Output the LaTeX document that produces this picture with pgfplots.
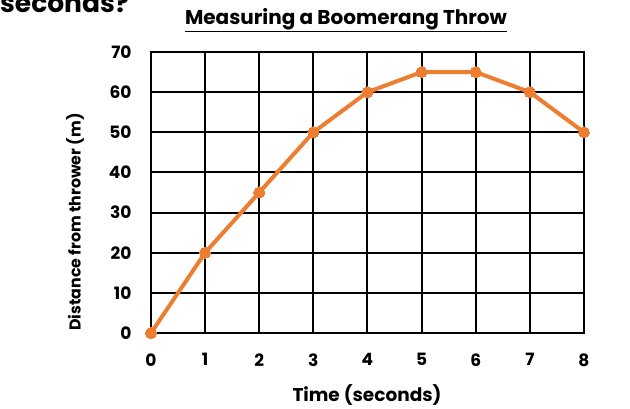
\documentclass[border=0pt]{standalone}
\usepackage{fontspec}
\setmainfont{Poppins}
\usepackage{pgfplots}
\pgfplotsset{compat=1.18}
\definecolor{boomorange}{HTML}{ED7D31}

\begin{document}
\begin{tikzpicture}[x=1pt,y=1pt]
\useasboundingbox (0,0) rectangle (630,409);
\begin{axis}[
    at={(151pt,76pt)}, anchor=south west,
    scale only axis,
    width=433pt, height=281pt,
    xmin=0, xmax=8, ymin=0, ymax=70,
    xtick={0,...,8}, ytick={0,10,...,70},
    grid=major,
    grid style={black, line width=2pt},
    axis line style={black, line width=2pt},
    major tick length=0pt,
    /pgf/number format/assume math mode=true,
    tick label style={font=\fontsize{17}{20}\selectfont\bfseries},
    xticklabel style={yshift=-17pt},
    yticklabel style={xshift=-16pt},
    clip=false,
]
\addplot[color=boomorange, line width=4pt, mark=*, mark size=5.5pt,
         mark options={fill=boomorange, draw=boomorange, line width=0pt}]
coordinates {
    (0,0)(1,20)(2,35)(3,50)(4,60)(5,65)(6,65)(7,60)(8,50)
};
\end{axis}
\node[anchor=center, font=\fontsize{18.5}{22}\selectfont\bfseries] at (367,14)
    {Time (seconds)};
\node[anchor=center, rotate=90, font=\fontsize{15.8}{18}\selectfont\bfseries] at (75,187)
    {Distance from thrower (m)};
\node[anchor=center, font=\fontsize{20}{24}\selectfont\bfseries] at (346,389)
    {\underline{Measuring a Boomerang Throw}};
\node[anchor=base west, font=\fontsize{26.5}{30}\selectfont\bfseries, inner sep=0pt]
    at (0,396) {seconds?};
\end{tikzpicture}
\end{document}
